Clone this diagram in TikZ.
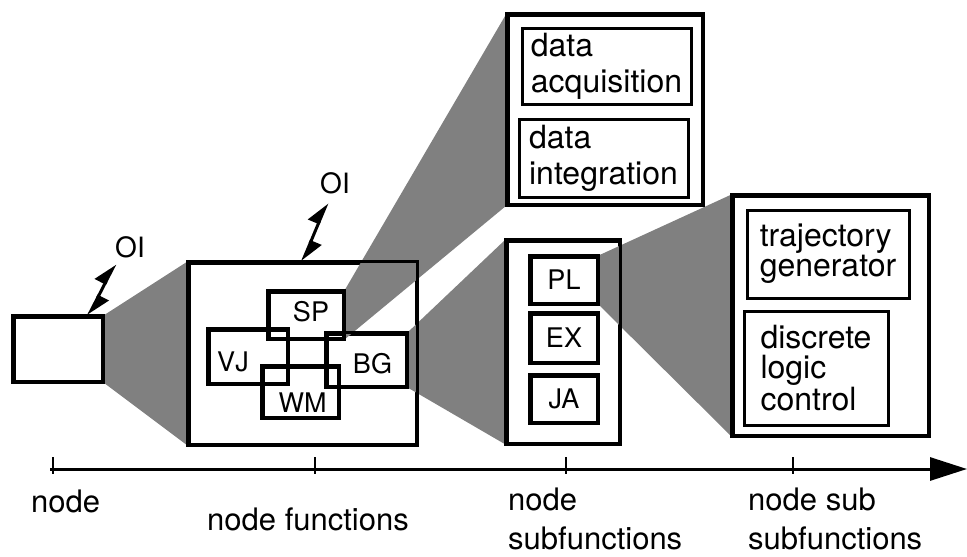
\documentclass[tikz,border=0pt]{standalone}
\usepackage{fontspec}
\setmainfont{TeX Gyre Heros}
\usetikzlibrary{arrows.meta}

\begin{document}
\begin{tikzpicture}[x=1pt,y=-1pt,
  box/.style={draw, line width=3pt, rectangle, inner sep=0pt},
  bigtext/.style={font=\fontsize{32}{36}\selectfont, align=left},
  tighttext/.style={font=\fontsize{32}{30}\selectfont, align=left},
  abbr/.style={font=\fontsize{27}{30}\selectfont, inner sep=0pt},
  axislabel/.style={font=\fontsize{31}{39}\selectfont, align=left, inner sep=0pt, anchor=south west},
  wedge/.style={fill=black!50, draw=none},
  dbl/.style={line width=3pt,
    {Triangle[harpoon,length=20pt,width=22pt]}-{Triangle[harpoon,length=20pt,width=22pt]}},
  tick/.style={line width=2pt}
]
\useasboundingbox (0,0) rectangle (967,557);

% --- containers and overlapping function blocks ---
\path
  node[box, minimum width=88pt,  minimum height=64pt]  (nd)  at (58,349) {}
  node[box, minimum width=227pt, minimum height=181pt] (nf)  at (302.5,353.5) {}
  node[box, minimum width=74pt,  minimum height=46pt,
       label={[abbr, xshift=5pt, yshift=3pt]center:SP}]  (sp) at (306,315) {}
  node[box, minimum width=78pt,  minimum height=53pt,
       label={[abbr, xshift=-15pt, yshift=-5pt]center:VJ}] (vj) at (248,356.5) {}
  node[box, minimum width=79pt,  minimum height=52pt,
       label={[abbr, xshift=6pt, yshift=-4pt]center:BG}] (bg) at (366.5,360) {}
  node[box, minimum width=75pt,  minimum height=50pt,
       label={[abbr, xshift=2pt, yshift=-11pt]center:WM}] (wm) at (300.5,392) {}
  node[box, minimum width=194pt, minimum height=189pt] (top) at (605,109.5) {}
  node[box, minimum width=112pt, minimum height=202pt] (ns)  at (563,342) {}
  node[box, minimum width=195pt, minimum height=239pt] (nss) at (830.5,315.5) {};

% --- zoom wedges ---
\fill[wedge] (nd.north east) -- (nf.north west) -- (nf.south west) -- (nd.south east) -- cycle;
\fill[wedge] (sp.north east) -- (top.north west) -- (top.south west) -- (sp.south east) -- cycle;
\fill[wedge] (bg.north east) -- (ns.north west) -- (ns.south west) -- (bg.south east) -- cycle;

% sub-blocks of the node subfunctions box
\node[box, minimum width=66pt, minimum height=46pt, abbr] (pl) at (564,280) {PL};
\node[box, minimum width=66pt, minimum height=48pt, abbr] (ex) at (564,338) {EX};
\node[box, minimum width=66pt, minimum height=46pt, abbr] (ja) at (564,399) {JA};

\fill[wedge] (pl.north east) -- (nss.north west) -- (nss.south west) -- (pl.south east) -- cycle;

% redraw outlines on top of the wedges
\foreach \n in {nd,nf,sp,vj,bg,wm,top,ns,nss,pl,ex,ja}
  \draw[line width=3pt] (\n.north west) rectangle (\n.south east);

% text blocks
\node[box, bigtext, minimum width=169pt, minimum height=76pt] (acq) at (606.5,66) {data\\acquisition};
\node[box, bigtext, minimum width=169pt, minimum height=78pt] (integ) at (603.5,158) {data\\integration};
\node[box, tighttext, minimum width=162pt, minimum height=88pt] (traj) at (828,254) {trajectory\\generator};
\node[box, tighttext, minimum width=144pt, minimum height=114pt] (disc) at (816,368) {discrete\\logic\\control};

% operator interfaces
\node[abbr, font=\fontsize{28}{30}\selectfont] (oi1) at (130,247) {OI};
\node[abbr, font=\fontsize{28}{30}\selectfont] (oi2) at (335,183) {OI};
\draw[dbl] ([xshift=-15pt]nd.north east) -- ([xshift=0pt,yshift=-6pt]oi1.south west);
\draw[dbl] (nf.north) -- ([xshift=7pt,yshift=-9pt]oi2.south west);

% abstraction axis
\coordinate (ax0) at (50,469);
\coordinate (ax1) at (967,469);
\draw[line width=3pt, -{Triangle[length=37pt,width=23pt]}] (ax0) -- (ax1);
\foreach \x in {53,315,566,793}
  \draw[tick] (\x,457) -- (\x,474);

\node[axislabel] (l1) at (31,513) {node};
\node[axislabel] (l2) at (207,531) {node functions};
\node[axislabel] (l3) at (508,550) {node\\subfunctions};
\node[axislabel] (l4) at (748,550) {node sub\\subfunctions};
\end{tikzpicture}
\end{document}
